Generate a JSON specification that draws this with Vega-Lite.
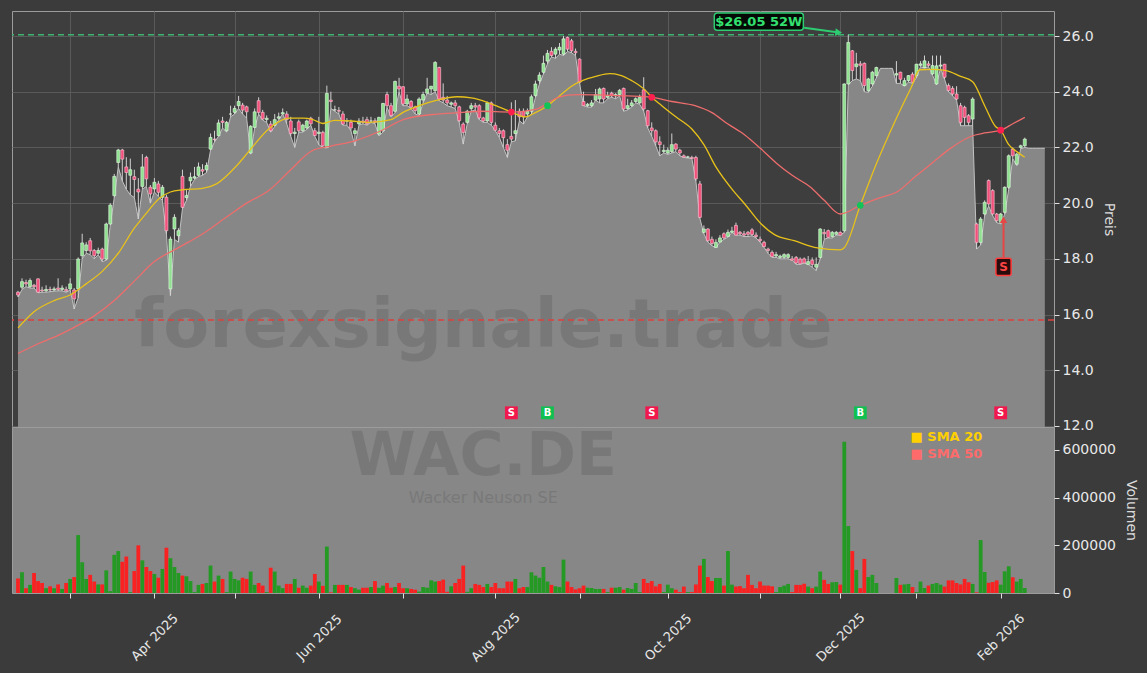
{
"$schema": "https://vega.github.io/schema/vega-lite/v6.json",
"background": "#3b3b3b",
"padding": {"left": 10, "top": 10, "right": 13, "bottom": 16},
"spacing": 0,
"bounds": "flush",
"config": {
  "font": "DejaVu Sans",
  "axis": {"labelColor": "#e8e8e8", "titleColor": "#dcdcdc", "labelFontSize": 14, "titleFontSize": 14, "titleFontWeight": "normal", "tickColor": "#e0e0e0", "domain": false, "gridColor": "#5a5a5a", "labelFont": "DejaVu Sans", "titleFont": "DejaVu Sans"}
},
"datasets": {
"one": [{}],
"ohlc": [
{"i":0,"o":16.8,"h":16.85,"l":16.63,"c":16.7,"v":61000},
{"i":1,"o":16.98,"h":17.3,"l":16.9,"c":17.18,"v":87000},
{"i":2,"o":17.15,"h":17.25,"l":17.0,"c":17.1,"v":20000},
{"i":3,"o":17.0,"h":17.3,"l":16.95,"c":17.22,"v":34000},
{"i":4,"o":17.05,"h":17.1,"l":16.95,"c":17.0,"v":84000},
{"i":5,"o":17.28,"h":17.3,"l":16.78,"c":16.8,"v":50000},
{"i":6,"o":16.88,"h":17.0,"l":16.8,"c":16.85,"v":42000},
{"i":7,"o":16.85,"h":17.05,"l":16.8,"c":16.9,"v":20000},
{"i":8,"o":16.9,"h":17.0,"l":16.82,"c":16.88,"v":28000},
{"i":9,"o":16.88,"h":17.0,"l":16.84,"c":16.92,"v":20000},
{"i":10,"o":16.95,"h":17.3,"l":16.85,"c":16.9,"v":36000},
{"i":11,"o":16.9,"h":17.05,"l":16.85,"c":16.95,"v":17000},
{"i":12,"o":16.9,"h":17.0,"l":16.8,"c":16.85,"v":42000},
{"i":13,"o":16.92,"h":17.3,"l":16.88,"c":17.1,"v":59000},
{"i":14,"o":16.88,"h":16.95,"l":16.2,"c":16.56,"v":67000},
{"i":15,"o":16.92,"h":18.05,"l":16.6,"c":17.99,"v":243000},
{"i":16,"o":18.11,"h":18.9,"l":18.0,"c":18.57,"v":129000},
{"i":17,"o":18.3,"h":18.6,"l":18.2,"c":18.5,"v":59000},
{"i":18,"o":18.65,"h":18.75,"l":18.15,"c":18.29,"v":76000},
{"i":19,"o":18.3,"h":18.35,"l":18.0,"c":18.11,"v":48000},
{"i":20,"o":18.2,"h":18.4,"l":18.15,"c":18.3,"v":36000},
{"i":21,"o":18.35,"h":18.4,"l":17.9,"c":17.99,"v":36000},
{"i":22,"o":17.99,"h":19.3,"l":17.95,"c":19.25,"v":95000},
{"i":23,"o":19.25,"h":20.0,"l":19.2,"c":19.93,"v":8000},
{"i":24,"o":20.27,"h":21.05,"l":20.2,"c":20.96,"v":160000},
{"i":25,"o":21.46,"h":21.95,"l":21.3,"c":21.91,"v":176000},
{"i":26,"o":21.91,"h":21.95,"l":20.8,"c":21.58,"v":131000},
{"i":27,"o":21.3,"h":21.65,"l":20.5,"c":21.1,"v":153000},
{"i":28,"o":21.0,"h":21.6,"l":20.3,"c":21.2,"v":4000},
{"i":29,"o":20.95,"h":21.2,"l":20.2,"c":20.85,"v":92000},
{"i":30,"o":20.5,"h":20.9,"l":19.43,"c":20.4,"v":200000},
{"i":31,"o":20.6,"h":21.76,"l":20.5,"c":21.3,"v":137000},
{"i":32,"o":21.64,"h":21.7,"l":20.6,"c":20.87,"v":109000},
{"i":33,"o":20.57,"h":20.65,"l":20.0,"c":20.33,"v":92000},
{"i":34,"o":20.51,"h":20.9,"l":20.4,"c":20.75,"v":80000},
{"i":35,"o":20.69,"h":20.8,"l":20.25,"c":20.39,"v":64000},
{"i":36,"o":20.21,"h":20.65,"l":20.1,"c":20.57,"v":101000},
{"i":37,"o":20.21,"h":20.3,"l":18.9,"c":19.01,"v":190000},
{"i":38,"o":16.92,"h":18.8,"l":16.68,"c":18.71,"v":146000},
{"i":39,"o":19.07,"h":19.6,"l":18.7,"c":19.49,"v":109000},
{"i":40,"o":18.83,"h":19.1,"l":18.6,"c":19.01,"v":84000},
{"i":41,"o":20.96,"h":21.2,"l":19.8,"c":19.85,"v":73000},
{"i":42,"o":20.2,"h":20.5,"l":20.1,"c":20.27,"v":70000},
{"i":43,"o":20.8,"h":21.1,"l":20.6,"c":20.93,"v":50000},
{"i":44,"o":20.9,"h":21.3,"l":20.85,"c":20.95,"v":4000},
{"i":45,"o":21.0,"h":21.46,"l":20.95,"c":21.3,"v":34000},
{"i":46,"o":21.2,"h":21.4,"l":21.0,"c":21.15,"v":38000},
{"i":47,"o":21.2,"h":21.46,"l":21.1,"c":21.35,"v":42000},
{"i":48,"o":21.94,"h":22.5,"l":21.9,"c":22.36,"v":115000},
{"i":49,"o":22.3,"h":22.6,"l":22.2,"c":22.28,"v":48000},
{"i":50,"o":22.42,"h":23.0,"l":22.4,"c":22.88,"v":73000},
{"i":51,"o":22.95,"h":23.1,"l":22.7,"c":22.9,"v":59000},
{"i":52,"o":22.6,"h":22.95,"l":22.55,"c":22.9,"v":4000},
{"i":53,"o":23.2,"h":23.5,"l":23.1,"c":23.2,"v":90000},
{"i":54,"o":23.26,"h":23.5,"l":23.2,"c":23.4,"v":59000},
{"i":55,"o":23.5,"h":23.85,"l":23.4,"c":23.65,"v":53000},
{"i":56,"o":23.52,"h":23.6,"l":23.2,"c":23.34,"v":64000},
{"i":57,"o":23.46,"h":23.5,"l":23.05,"c":23.28,"v":59000},
{"i":58,"o":21.8,"h":22.8,"l":21.76,"c":22.76,"v":90000},
{"i":59,"o":22.72,"h":23.4,"l":22.7,"c":23.28,"v":34000},
{"i":60,"o":23.68,"h":23.8,"l":23.2,"c":23.26,"v":42000},
{"i":61,"o":23.26,"h":23.35,"l":22.98,"c":23.02,"v":31000},
{"i":62,"o":23.0,"h":23.15,"l":22.9,"c":23.05,"v":4000},
{"i":63,"o":22.84,"h":22.95,"l":22.55,"c":22.6,"v":106000},
{"i":64,"o":22.8,"h":23.2,"l":22.75,"c":23.0,"v":90000},
{"i":65,"o":23.05,"h":23.25,"l":23.0,"c":23.1,"v":31000},
{"i":66,"o":23.2,"h":23.4,"l":23.2,"c":23.25,"v":20000},
{"i":67,"o":23.2,"h":23.3,"l":22.85,"c":23.0,"v":38000},
{"i":68,"o":22.95,"h":23.1,"l":22.4,"c":22.5,"v":38000},
{"i":69,"o":22.5,"h":22.7,"l":22.0,"c":22.55,"v":59000},
{"i":70,"o":22.92,"h":23.0,"l":22.55,"c":22.6,"v":22000},
{"i":71,"o":22.6,"h":22.85,"l":22.55,"c":22.8,"v":31000},
{"i":72,"o":22.7,"h":23.0,"l":22.65,"c":22.95,"v":22000},
{"i":73,"o":23.05,"h":23.1,"l":22.8,"c":22.85,"v":31000},
{"i":74,"o":22.6,"h":22.7,"l":22.4,"c":22.43,"v":80000},
{"i":75,"o":22.5,"h":23.1,"l":22.1,"c":22.55,"v":48000},
{"i":76,"o":22.54,"h":22.6,"l":22.0,"c":22.06,"v":30000},
{"i":77,"o":22.0,"h":24.22,"l":21.98,"c":23.94,"v":195000},
{"i":78,"o":23.7,"h":24.0,"l":23.4,"c":23.65,"v":3000},
{"i":79,"o":23.35,"h":23.5,"l":23.3,"c":23.35,"v":34000},
{"i":80,"o":23.33,"h":23.45,"l":23.2,"c":23.3,"v":34000},
{"i":81,"o":23.2,"h":23.3,"l":22.8,"c":22.84,"v":34000},
{"i":82,"o":22.95,"h":23.05,"l":22.8,"c":22.95,"v":34000},
{"i":83,"o":22.9,"h":23.0,"l":22.6,"c":22.7,"v":25000},
{"i":84,"o":22.5,"h":22.7,"l":22.06,"c":22.6,"v":20000},
{"i":85,"o":22.85,"h":23.05,"l":22.8,"c":22.95,"v":14000},
{"i":86,"o":22.95,"h":23.1,"l":22.85,"c":22.9,"v":22000},
{"i":87,"o":23.0,"h":23.1,"l":22.8,"c":22.85,"v":22000},
{"i":88,"o":22.95,"h":23.1,"l":22.9,"c":22.95,"v":25000},
{"i":89,"o":22.96,"h":23.05,"l":22.85,"c":22.9,"v":50000},
{"i":90,"o":22.48,"h":23.1,"l":22.42,"c":23.08,"v":22000},
{"i":91,"o":22.6,"h":23.6,"l":22.55,"c":23.58,"v":31000},
{"i":92,"o":23.9,"h":24.0,"l":23.44,"c":23.5,"v":42000},
{"i":93,"o":23.5,"h":23.6,"l":23.1,"c":23.15,"v":22000},
{"i":94,"o":23.3,"h":24.4,"l":23.25,"c":24.37,"v":25000},
{"i":95,"o":24.2,"h":24.5,"l":24.0,"c":24.1,"v":42000},
{"i":96,"o":24.18,"h":24.2,"l":23.5,"c":23.56,"v":20000},
{"i":97,"o":23.56,"h":23.9,"l":23.5,"c":23.74,"v":20000},
{"i":98,"o":23.65,"h":23.7,"l":23.4,"c":23.45,"v":17000},
{"i":99,"o":23.45,"h":23.5,"l":23.2,"c":23.32,"v":14000},
{"i":100,"o":23.2,"h":23.8,"l":23.15,"c":23.74,"v":6000},
{"i":101,"o":23.7,"h":24.0,"l":23.6,"c":23.9,"v":25000},
{"i":102,"o":23.95,"h":24.5,"l":23.95,"c":24.1,"v":22000},
{"i":103,"o":24.1,"h":24.2,"l":23.9,"c":24.2,"v":53000},
{"i":104,"o":24.04,"h":25.1,"l":24.0,"c":25.05,"v":48000},
{"i":105,"o":24.87,"h":24.9,"l":23.68,"c":23.74,"v":50000},
{"i":106,"o":23.8,"h":24.3,"l":23.6,"c":23.7,"v":56000},
{"i":107,"o":23.7,"h":23.85,"l":23.5,"c":23.6,"v":5000},
{"i":108,"o":23.55,"h":23.65,"l":23.45,"c":23.6,"v":28000},
{"i":109,"o":23.6,"h":23.7,"l":23.4,"c":23.5,"v":42000},
{"i":110,"o":23.46,"h":23.5,"l":22.9,"c":22.96,"v":59000},
{"i":111,"o":22.84,"h":22.9,"l":22.12,"c":22.54,"v":115000},
{"i":112,"o":22.9,"h":23.35,"l":22.85,"c":23.3,"v":5000},
{"i":113,"o":23.4,"h":23.6,"l":23.3,"c":23.5,"v":20000},
{"i":114,"o":23.5,"h":23.6,"l":23.35,"c":23.45,"v":38000},
{"i":115,"o":23.5,"h":23.55,"l":23.0,"c":23.06,"v":34000},
{"i":116,"o":23.06,"h":23.1,"l":22.9,"c":22.95,"v":25000},
{"i":117,"o":22.95,"h":23.65,"l":22.9,"c":23.6,"v":38000},
{"i":118,"o":23.6,"h":23.65,"l":22.8,"c":22.9,"v":25000},
{"i":119,"o":22.8,"h":22.9,"l":22.6,"c":22.62,"v":42000},
{"i":120,"o":22.6,"h":22.7,"l":22.36,"c":22.5,"v":20000},
{"i":121,"o":22.6,"h":22.65,"l":22.0,"c":22.35,"v":20000},
{"i":122,"o":22.1,"h":22.3,"l":21.64,"c":21.9,"v":48000},
{"i":123,"o":22.4,"h":23.62,"l":22.2,"c":22.3,"v":48000},
{"i":124,"o":22.5,"h":23.7,"l":22.24,"c":22.6,"v":59000},
{"i":125,"o":23.3,"h":23.4,"l":22.96,"c":23.1,"v":20000},
{"i":126,"o":23.3,"h":23.4,"l":22.84,"c":23.1,"v":25000},
{"i":127,"o":23.2,"h":23.4,"l":23.1,"c":23.3,"v":25000},
{"i":128,"o":23.3,"h":23.9,"l":23.2,"c":23.82,"v":87000},
{"i":129,"o":23.86,"h":24.4,"l":23.8,"c":24.28,"v":73000},
{"i":130,"o":24.4,"h":24.7,"l":24.28,"c":24.6,"v":64000},
{"i":131,"o":24.7,"h":25.3,"l":24.64,"c":25.02,"v":109000},
{"i":132,"o":25.1,"h":25.5,"l":25.0,"c":25.38,"v":48000},
{"i":133,"o":25.45,"h":25.6,"l":25.25,"c":25.3,"v":34000},
{"i":134,"o":25.35,"h":25.6,"l":25.2,"c":25.53,"v":28000},
{"i":135,"o":25.5,"h":25.75,"l":25.35,"c":25.6,"v":25000},
{"i":136,"o":25.35,"h":26.0,"l":25.3,"c":25.9,"v":140000},
{"i":137,"o":25.95,"h":25.98,"l":25.45,"c":25.53,"v":48000},
{"i":138,"o":25.83,"h":25.9,"l":25.4,"c":25.47,"v":25000},
{"i":139,"o":25.45,"h":25.55,"l":25.3,"c":25.4,"v":15000},
{"i":140,"o":25.17,"h":25.2,"l":24.3,"c":24.34,"v":20000},
{"i":141,"o":23.65,"h":24.0,"l":23.5,"c":23.5,"v":31000},
{"i":142,"o":23.5,"h":23.6,"l":23.45,"c":23.55,"v":22000},
{"i":143,"o":23.5,"h":23.7,"l":23.45,"c":23.6,"v":21000},
{"i":144,"o":23.7,"h":24.1,"l":23.7,"c":23.9,"v":17000},
{"i":145,"o":23.74,"h":24.15,"l":23.6,"c":24.1,"v":17000},
{"i":146,"o":24.12,"h":24.15,"l":23.6,"c":23.74,"v":17000},
{"i":147,"o":23.8,"h":24.0,"l":23.75,"c":23.85,"v":4000},
{"i":148,"o":23.95,"h":24.0,"l":23.8,"c":23.85,"v":22000},
{"i":149,"o":23.85,"h":23.95,"l":23.75,"c":23.9,"v":22000},
{"i":150,"o":23.9,"h":24.1,"l":23.85,"c":24.05,"v":25000},
{"i":151,"o":24.12,"h":24.15,"l":23.3,"c":23.38,"v":14000},
{"i":152,"o":23.4,"h":23.75,"l":23.35,"c":23.5,"v":21000},
{"i":153,"o":23.5,"h":23.7,"l":23.45,"c":23.6,"v":17000},
{"i":154,"o":23.65,"h":23.8,"l":23.6,"c":23.75,"v":42000},
{"i":155,"o":23.6,"h":23.9,"l":23.55,"c":23.8,"v":4000},
{"i":156,"o":24.07,"h":24.52,"l":23.3,"c":23.38,"v":59000},
{"i":157,"o":23.32,"h":23.35,"l":22.7,"c":22.78,"v":42000},
{"i":158,"o":22.7,"h":22.9,"l":22.4,"c":22.6,"v":50000},
{"i":159,"o":22.6,"h":22.65,"l":22.06,"c":22.2,"v":28000},
{"i":160,"o":22.2,"h":22.4,"l":21.7,"c":22.1,"v":38000},
{"i":161,"o":21.85,"h":22.1,"l":21.8,"c":21.9,"v":4000},
{"i":162,"o":21.8,"h":22.0,"l":21.75,"c":21.9,"v":35000},
{"i":163,"o":21.85,"h":22.5,"l":21.8,"c":22.1,"v":20000},
{"i":164,"o":22.12,"h":22.15,"l":21.85,"c":21.94,"v":14000},
{"i":165,"o":21.9,"h":21.95,"l":21.7,"c":21.8,"v":4000},
{"i":166,"o":21.7,"h":21.75,"l":21.64,"c":21.65,"v":27000},
{"i":167,"o":21.65,"h":21.7,"l":21.62,"c":21.66,"v":4000},
{"i":168,"o":21.64,"h":21.7,"l":21.6,"c":21.6,"v":4000},
{"i":169,"o":21.64,"h":21.7,"l":20.8,"c":20.87,"v":36000},
{"i":170,"o":20.69,"h":20.8,"l":19.45,"c":19.49,"v":115000},
{"i":171,"o":18.95,"h":19.2,"l":18.9,"c":19.07,"v":143000},
{"i":172,"o":19.07,"h":19.1,"l":18.6,"c":18.65,"v":67000},
{"i":173,"o":18.7,"h":18.8,"l":18.47,"c":18.55,"v":50000},
{"i":174,"o":18.41,"h":18.7,"l":18.4,"c":18.59,"v":63000},
{"i":175,"o":18.6,"h":18.85,"l":18.6,"c":18.75,"v":63000},
{"i":176,"o":18.9,"h":18.95,"l":18.7,"c":18.75,"v":31000},
{"i":177,"o":18.8,"h":19.05,"l":18.78,"c":18.95,"v":176000},
{"i":178,"o":18.95,"h":19.15,"l":18.95,"c":19.0,"v":35000},
{"i":179,"o":19.2,"h":19.3,"l":18.85,"c":18.85,"v":27000},
{"i":180,"o":18.95,"h":19.0,"l":18.85,"c":18.9,"v":29000},
{"i":181,"o":18.9,"h":19.0,"l":18.8,"c":18.85,"v":20000},
{"i":182,"o":18.95,"h":19.0,"l":18.8,"c":18.88,"v":76000},
{"i":183,"o":19.04,"h":19.1,"l":18.83,"c":18.87,"v":34000},
{"i":184,"o":18.85,"h":18.95,"l":18.75,"c":18.8,"v":20000},
{"i":185,"o":18.7,"h":18.8,"l":18.6,"c":18.65,"v":48000},
{"i":186,"o":18.59,"h":18.65,"l":18.41,"c":18.44,"v":31000},
{"i":187,"o":18.35,"h":18.4,"l":18.2,"c":18.3,"v":31000},
{"i":188,"o":18.23,"h":18.3,"l":18.05,"c":18.08,"v":28000},
{"i":189,"o":18.1,"h":18.25,"l":18.05,"c":18.15,"v":4000},
{"i":190,"o":18.05,"h":18.15,"l":18.0,"c":18.1,"v":25000},
{"i":191,"o":18.05,"h":18.2,"l":18.0,"c":18.15,"v":31000},
{"i":192,"o":18.05,"h":18.2,"l":18.0,"c":18.15,"v":38000},
{"i":193,"o":18.0,"h":18.1,"l":17.95,"c":17.95,"v":4000},
{"i":194,"o":18.05,"h":18.1,"l":17.8,"c":17.85,"v":34000},
{"i":195,"o":17.99,"h":18.05,"l":17.8,"c":17.82,"v":34000},
{"i":196,"o":18.0,"h":18.05,"l":17.85,"c":17.85,"v":39000},
{"i":197,"o":17.8,"h":18.1,"l":17.8,"c":17.9,"v":27000},
{"i":198,"o":17.95,"h":18.05,"l":17.7,"c":17.8,"v":20000},
{"i":199,"o":17.7,"h":18.05,"l":17.58,"c":17.8,"v":27000},
{"i":200,"o":18.05,"h":19.1,"l":18.0,"c":19.07,"v":90000},
{"i":201,"o":18.95,"h":19.07,"l":18.7,"c":18.9,"v":55000},
{"i":202,"o":19.01,"h":19.05,"l":18.75,"c":18.77,"v":38000},
{"i":203,"o":18.8,"h":19.0,"l":18.75,"c":18.95,"v":45000},
{"i":204,"o":18.88,"h":19.0,"l":18.85,"c":18.95,"v":46000},
{"i":205,"o":18.95,"h":18.98,"l":18.85,"c":18.85,"v":35000},
{"i":206,"o":19.01,"h":24.3,"l":18.95,"c":24.28,"v":635000},
{"i":207,"o":24.28,"h":26.05,"l":24.25,"c":25.77,"v":281000},
{"i":208,"o":25.47,"h":25.5,"l":24.4,"c":24.76,"v":176000},
{"i":209,"o":24.9,"h":25.4,"l":24.46,"c":25.0,"v":97000},
{"i":210,"o":25.0,"h":25.1,"l":24.4,"c":24.95,"v":20000},
{"i":211,"o":25.02,"h":25.05,"l":24.0,"c":24.22,"v":143000},
{"i":212,"o":24.04,"h":24.5,"l":23.98,"c":24.46,"v":67000},
{"i":213,"o":24.28,"h":24.75,"l":24.2,"c":24.7,"v":76000},
{"i":214,"o":24.58,"h":24.9,"l":24.5,"c":24.87,"v":42000},
{"i":215,"l":24.84},
{"i":216,"l":24.84},
{"i":217,"l":24.84},
{"i":218,"l":24.84},
{"i":219,"o":24.6,"h":25.1,"l":24.3,"c":24.65,"v":63000},
{"i":220,"o":24.7,"h":24.72,"l":24.3,"c":24.45,"v":34000},
{"i":221,"o":24.22,"h":24.5,"l":24.2,"c":24.4,"v":36000},
{"i":222,"o":24.4,"h":24.6,"l":24.35,"c":24.58,"v":38000},
{"i":223,"o":24.63,"h":24.7,"l":24.3,"c":24.34,"v":25000},
{"i":224,"o":24.58,"h":25.0,"l":24.5,"c":24.99,"v":4000},
{"i":225,"o":24.95,"h":25.1,"l":24.9,"c":25.0,"v":48000},
{"i":226,"o":24.87,"h":25.3,"l":24.85,"c":25.11,"v":21000},
{"i":227,"o":25.0,"h":25.1,"l":24.9,"c":24.95,"v":31000},
{"i":228,"o":24.64,"h":25.3,"l":24.6,"c":24.94,"v":38000},
{"i":229,"o":24.28,"h":25.3,"l":24.25,"c":24.93,"v":42000},
{"i":230,"o":24.92,"h":25.3,"l":24.85,"c":24.96,"v":35000},
{"i":231,"o":24.99,"h":25.0,"l":24.45,"c":24.52,"v":27000},
{"i":232,"o":24.22,"h":24.3,"l":24.0,"c":24.04,"v":53000},
{"i":233,"o":24.12,"h":24.2,"l":23.85,"c":23.92,"v":53000},
{"i":234,"o":23.92,"h":24.2,"l":23.7,"c":23.74,"v":42000},
{"i":235,"o":23.5,"h":23.6,"l":22.78,"c":22.9,"v":36000},
{"i":236,"o":23.44,"h":23.5,"l":22.78,"c":23.08,"v":59000},
{"i":237,"o":23.14,"h":23.2,"l":22.78,"c":22.9,"v":45000},
{"i":238,"o":23.02,"h":23.8,"l":22.78,"c":23.74,"v":38000},
{"i":239,"o":19.25,"h":19.3,"l":18.35,"c":18.59,"v":3000},
{"i":240,"o":18.59,"h":19.5,"l":18.5,"c":19.43,"v":222000},
{"i":241,"o":19.61,"h":20.1,"l":19.55,"c":20.03,"v":88000},
{"i":242,"o":20.81,"h":20.85,"l":19.9,"c":19.97,"v":43000},
{"i":243,"o":20.45,"h":20.5,"l":19.55,"c":19.61,"v":46000},
{"i":244,"o":19.61,"h":19.65,"l":19.3,"c":19.37,"v":53000},
{"i":245,"o":19.31,"h":19.65,"l":19.25,"c":19.61,"v":35000},
{"i":246,"o":19.67,"h":20.6,"l":19.6,"c":20.57,"v":91000},
{"i":247,"o":20.57,"h":21.75,"l":20.5,"c":21.7,"v":112000},
{"i":248,"o":21.94,"h":22.0,"l":21.6,"c":21.7,"v":66000},
{"i":249,"o":21.4,"h":21.8,"l":21.35,"c":21.76,"v":48000},
{"i":250,"o":22.0,"h":22.1,"l":21.95,"c":22.06,"v":59000},
{"i":251,"o":22.06,"h":22.35,"l":22.0,"c":22.3,"v":21000},
{"i":252,"l":21.97},
{"i":253,"l":21.97},
{"i":254,"l":21.97},
{"i":255,"l":21.97},
{"i":256,"l":21.97}
],
"sma": [
{"i":0,"k":"SMA 20","p":15.52},{"i":4,"k":"SMA 20","p":16.1},{"i":9,"k":"SMA 20","p":16.5},{"i":13,"k":"SMA 20","p":16.7},{"i":17,"k":"SMA 20","p":17.1},{"i":21,"k":"SMA 20","p":17.55},{"i":25,"k":"SMA 20","p":18.2},{"i":29,"k":"SMA 20","p":19.1},{"i":31.5,"k":"SMA 20","p":19.55},{"i":35.5,"k":"SMA 20","p":20.2},{"i":38,"k":"SMA 20","p":20.4},{"i":41,"k":"SMA 20","p":20.48},{"i":46,"k":"SMA 20","p":20.53},{"i":49.5,"k":"SMA 20","p":20.69},{"i":54.5,"k":"SMA 20","p":21.34},{"i":57.5,"k":"SMA 20","p":21.85},{"i":62.5,"k":"SMA 20","p":22.66},{"i":67.5,"k":"SMA 20","p":23.05},{"i":71,"k":"SMA 20","p":23.05},{"i":73.5,"k":"SMA 20","p":23.0},{"i":76,"k":"SMA 20","p":22.86},{"i":79,"k":"SMA 20","p":22.97},{"i":83,"k":"SMA 20","p":22.95},{"i":87.5,"k":"SMA 20","p":22.9},{"i":93,"k":"SMA 20","p":23.0},{"i":96,"k":"SMA 20","p":23.26},{"i":100,"k":"SMA 20","p":23.5},{"i":104.5,"k":"SMA 20","p":23.7},{"i":109.5,"k":"SMA 20","p":23.82},{"i":113,"k":"SMA 20","p":23.78},{"i":117,"k":"SMA 20","p":23.62},{"i":120,"k":"SMA 20","p":23.45},{"i":123,"k":"SMA 20","p":23.27},{"i":126.5,"k":"SMA 20","p":23.1},{"i":129,"k":"SMA 20","p":23.25},{"i":132,"k":"SMA 20","p":23.5},{"i":135,"k":"SMA 20","p":23.85},{"i":138,"k":"SMA 20","p":24.2},{"i":141,"k":"SMA 20","p":24.42},{"i":144,"k":"SMA 20","p":24.55},{"i":147.5,"k":"SMA 20","p":24.65},{"i":150,"k":"SMA 20","p":24.6},{"i":153,"k":"SMA 20","p":24.4},{"i":156.5,"k":"SMA 20","p":24.04},{"i":158,"k":"SMA 20","p":23.8},{"i":160.5,"k":"SMA 20","p":23.5},{"i":164,"k":"SMA 20","p":23.1},{"i":168,"k":"SMA 20","p":22.66},{"i":171,"k":"SMA 20","p":22.1},{"i":174,"k":"SMA 20","p":21.3},{"i":178.3,"k":"SMA 20","p":20.45},{"i":181.2,"k":"SMA 20","p":19.97},{"i":185.3,"k":"SMA 20","p":19.25},{"i":188.6,"k":"SMA 20","p":18.87},{"i":193.5,"k":"SMA 20","p":18.65},{"i":199.3,"k":"SMA 20","p":18.39},{"i":205,"k":"SMA 20","p":18.32},{"i":206,"k":"SMA 20","p":18.4},{"i":210,"k":"SMA 20","p":19.92},{"i":214,"k":"SMA 20","p":21.41},{"i":219,"k":"SMA 20","p":23.05},{"i":222.7,"k":"SMA 20","p":24.16},{"i":224.8,"k":"SMA 20","p":24.79},{"i":228,"k":"SMA 20","p":24.8},{"i":231.4,"k":"SMA 20","p":24.76},{"i":235,"k":"SMA 20","p":24.55},{"i":238,"k":"SMA 20","p":24.36},{"i":241,"k":"SMA 20","p":23.5},{"i":243.7,"k":"SMA 20","p":22.75},{"i":245,"k":"SMA 20","p":22.62},{"i":247,"k":"SMA 20","p":22.1},{"i":249,"k":"SMA 20","p":21.85},{"i":251,"k":"SMA 20","p":21.65},
{"i":0,"k":"SMA 50","p":14.6},{"i":5,"k":"SMA 50","p":14.95},{"i":10,"k":"SMA 50","p":15.25},{"i":14,"k":"SMA 50","p":15.54},{"i":19,"k":"SMA 50","p":15.95},{"i":24,"k":"SMA 50","p":16.5},{"i":29,"k":"SMA 50","p":17.2},{"i":34,"k":"SMA 50","p":17.9},{"i":40,"k":"SMA 50","p":18.4},{"i":46,"k":"SMA 50","p":18.89},{"i":52,"k":"SMA 50","p":19.5},{"i":57,"k":"SMA 50","p":20.0},{"i":62.5,"k":"SMA 50","p":20.45},{"i":68,"k":"SMA 50","p":21.2},{"i":73.3,"k":"SMA 50","p":21.88},{"i":78,"k":"SMA 50","p":22.05},{"i":84,"k":"SMA 50","p":22.24},{"i":90.5,"k":"SMA 50","p":22.6},{"i":96.4,"k":"SMA 50","p":23.02},{"i":104.6,"k":"SMA 50","p":23.2},{"i":110,"k":"SMA 50","p":23.25},{"i":115.3,"k":"SMA 50","p":23.3},{"i":123,"k":"SMA 50","p":23.27},{"i":129.3,"k":"SMA 50","p":23.38},{"i":133.8,"k":"SMA 50","p":23.74},{"i":137,"k":"SMA 50","p":23.88},{"i":140,"k":"SMA 50","p":23.9},{"i":146,"k":"SMA 50","p":23.88},{"i":152,"k":"SMA 50","p":23.85},{"i":158,"k":"SMA 50","p":23.8},{"i":163,"k":"SMA 50","p":23.65},{"i":168.8,"k":"SMA 50","p":23.5},{"i":173,"k":"SMA 50","p":23.25},{"i":177,"k":"SMA 50","p":22.84},{"i":181.2,"k":"SMA 50","p":22.45},{"i":185.3,"k":"SMA 50","p":21.94},{"i":189.4,"k":"SMA 50","p":21.4},{"i":193,"k":"SMA 50","p":21.0},{"i":197.6,"k":"SMA 50","p":20.57},{"i":201,"k":"SMA 50","p":20.1},{"i":205,"k":"SMA 50","p":19.61},{"i":210,"k":"SMA 50","p":19.92},{"i":215,"k":"SMA 50","p":20.2},{"i":219,"k":"SMA 50","p":20.39},{"i":224,"k":"SMA 50","p":20.99},{"i":228,"k":"SMA 50","p":21.45},{"i":232.2,"k":"SMA 50","p":21.94},{"i":238,"k":"SMA 50","p":22.42},{"i":241,"k":"SMA 50","p":22.52},{"i":245,"k":"SMA 50","p":22.62},{"i":248,"k":"SMA 50","p":22.85},{"i":251,"k":"SMA 50","p":23.08}
],
"sig": [
{"i":123,"p":23.27,"t":"S"},
{"i":132,"p":23.5,"t":"B"},
{"i":158,"p":23.8,"t":"S"},
{"i":210,"p":19.92,"t":"B"},
{"i":245,"p":22.62,"t":"S"}
]
},
"vconcat": [
{
  "width": 1042, "height": 416,
  "view": {"fill": "#3e3e3e", "stroke": "#9c9c9c"},
  "layer": [
    {"data": {"name": "ohlc"},
     "mark": {"type": "area", "color": "#878787", "opacity": 1, "clip": true, "line": {"color": "#c2c2c2", "strokeWidth": 1}},
     "encoding": {
       "x": {"field": "i", "type": "quantitative", "scale": {"domain": [-0.25, 257.04], "nice": false, "zero": false},
             "axis": {"values": [13,34,54,75,96,119,140,162,185,205,224,245], "labels": false, "ticks": false, "grid": true, "title": null, "domain": false, "minExtent": 0, "maxExtent": 0, "offset": 0}},
       "y": {"field": "l", "type": "quantitative", "scale": {"domain": [11.96, 26.9], "nice": false, "zero": false},
             "axis": {"orient": "right", "values": [12,14,16,18,20,22,24,26], "format": ".1f", "title": "Preis", "grid": true, "tickSize": 5, "labelPadding": 3, "titlePadding": 8}}
     }},
    {"data": {"name": "one"},
     "mark": {"type": "text", "text": "forexsignale.trade", "fontSize": 67, "fontWeight": "bold", "color": "#555555", "opacity": 0.28, "align": "center", "baseline": "middle"},
     "encoding": {"x": {"datum": 116, "type": "quantitative"}, "y": {"datum": 15.55, "type": "quantitative"}}},
    {"data": {"name": "one"},
     "mark": {"type": "rule", "color": "#dd4040", "strokeWidth": 1.5, "strokeDash": [6, 4]},
     "encoding": {"y": {"datum": 15.8, "type": "quantitative"}}},
    {"data": {"name": "one"},
     "mark": {"type": "rule", "color": "#3cb371", "strokeWidth": 1.5, "strokeDash": [6, 4]},
     "encoding": {"y": {"datum": 26.05, "type": "quantitative"}}},
    {"data": {"name": "ohlc"},
     "transform": [{"filter": "isValid(datum.o)"}],
     "mark": {"type": "rule", "color": "#d2d2d2", "strokeWidth": 1},
     "encoding": {"x": {"field": "i", "type": "quantitative"}, "y": {"field": "l", "type": "quantitative"}, "y2": {"field": "h"}}},
    {"data": {"name": "ohlc"},
     "transform": [{"filter": "isValid(datum.o)"}],
     "mark": {"type": "bar", "width": 3, "strokeWidth": 0.6},
     "encoding": {"x": {"field": "i", "type": "quantitative"}, "y": {"field": "o", "type": "quantitative"}, "y2": {"field": "c"},
       "fill": {"condition": {"test": "datum.c >= datum.o", "value": "#8fe08f"}, "value": "#f0507a"},
       "stroke": {"condition": {"test": "datum.c >= datum.o", "value": "#e4fbe4"}, "value": "#ffc8d6"}}},
    {"data": {"name": "sma"},
     "mark": {"type": "line", "strokeWidth": 1.3, "interpolate": "monotone", "clip": true},
     "encoding": {"x": {"field": "i", "type": "quantitative"}, "y": {"field": "p", "type": "quantitative"},
       "color": {"field": "k", "type": "nominal", "scale": {"domain": ["SMA 20", "SMA 50"], "range": ["#e8c21a", "#ee6d6d"]}, "legend": null}}},
    {"data": {"name": "sig"},
     "mark": {"type": "point", "filled": true, "size": 45, "opacity": 1},
     "encoding": {"x": {"field": "i", "type": "quantitative"}, "y": {"field": "p", "type": "quantitative"},
       "color": {"condition": {"test": "datum.t == 'B'", "value": "#12c457"}, "value": "#ff1f4f"}}},
    {"data": {"name": "sig"},
     "mark": {"type": "point", "shape": "square", "filled": true, "size": 165, "opacity": 1},
     "encoding": {"x": {"field": "i", "type": "quantitative"}, "y": {"datum": 12.47, "type": "quantitative"},
       "color": {"condition": {"test": "datum.t == 'B'", "value": "#10c050"}, "value": "#f0184c"}}},
    {"data": {"name": "sig"},
     "mark": {"type": "text", "color": "white", "fontWeight": "bold", "fontSize": 10, "align": "center", "baseline": "middle"},
     "encoding": {"x": {"field": "i", "type": "quantitative"}, "y": {"datum": 12.47, "type": "quantitative"}, "text": {"field": "t"}}},
    {"data": {"name": "one"},
     "mark": {"type": "rect", "fill": "#050a06", "stroke": "#2ecc71", "strokeWidth": 1.5, "cornerRadius": 3},
     "encoding": {"x": {"datum": 173.6, "type": "quantitative"}, "x2": {"datum": 195.8}, "y": {"datum": 26.83, "type": "quantitative"}, "y2": {"datum": 26.21}}},
    {"data": {"name": "one"},
     "mark": {"type": "text", "text": "$26.05 52W", "color": "#33e070", "fontWeight": "bold", "fontSize": 13, "align": "center", "baseline": "middle"},
     "encoding": {"x": {"datum": 184.7, "type": "quantitative"}, "y": {"datum": 26.52, "type": "quantitative"}}},
    {"data": {"name": "one"},
     "mark": {"type": "rule", "color": "#2ecc71", "strokeWidth": 2},
     "encoding": {"x": {"datum": 196.0, "type": "quantitative"}, "x2": {"datum": 204.2}, "y": {"datum": 26.3, "type": "quantitative"}, "y2": {"datum": 26.14}}},
    {"data": {"name": "one"},
     "mark": {"type": "point", "shape": "triangle-right", "filled": true, "size": 60, "color": "#2ecc71", "opacity": 1, "angle": 6},
     "encoding": {"x": {"datum": 204.6, "type": "quantitative"}, "y": {"datum": 26.13, "type": "quantitative"}}},
    {"data": {"name": "one"},
     "mark": {"type": "rule", "color": "#e84545", "strokeWidth": 2},
     "encoding": {"x": {"datum": 245.7, "type": "quantitative"}, "y": {"datum": 18.05, "type": "quantitative"}, "y2": {"datum": 19.3}}},
    {"data": {"name": "one"},
     "mark": {"type": "point", "shape": "triangle-up", "filled": true, "size": 55, "color": "#e84545", "opacity": 1},
     "encoding": {"x": {"datum": 245.7, "type": "quantitative"}, "y": {"datum": 19.4, "type": "quantitative"}}},
    {"data": {"name": "one"},
     "mark": {"type": "rect", "fill": "#2a0c0c", "stroke": "#ff3b3b", "strokeWidth": 1.5, "cornerRadius": 2},
     "encoding": {"x": {"datum": 243.8, "type": "quantitative"}, "x2": {"datum": 247.6}, "y": {"datum": 18.02, "type": "quantitative"}, "y2": {"datum": 17.4}}},
    {"data": {"name": "one"},
     "mark": {"type": "text", "text": "S", "color": "#ff4545", "fontWeight": "bold", "fontSize": 12, "align": "center", "baseline": "middle"},
     "encoding": {"x": {"datum": 245.7, "type": "quantitative"}, "y": {"datum": 17.71, "type": "quantitative"}}}
  ]
},
{
  "width": 1042, "height": 166,
  "view": {"fill": "#878787", "stroke": "#9c9c9c"},
  "layer": [
    {"data": {"name": "ohlc"},
     "transform": [{"filter": "isValid(datum.v)"}],
     "mark": {"type": "bar", "width": 3.8, "opacity": 0.95},
     "encoding": {
       "x": {"field": "i", "type": "quantitative", "scale": {"domain": [-0.25, 257.04], "nice": false, "zero": false},
             "axis": {"values": [13,34,54,75,96,119,140,162,185,205,224,245], "title": null, "grid": false, "tickSize": 5,
                      "labelExpr": "datum.value==34?'Apr 2025':datum.value==75?'Jun 2025':datum.value==119?'Aug 2025':datum.value==162?'Oct 2025':datum.value==205?'Dec 2025':datum.value==245?'Feb 2026':''",
                      "labelAngle": -45, "labelAlign": "center", "labelBaseline": "middle", "labelPadding": 39, "labelFontSize": 13, "labelOverlap": false, "labelBound": false, "labelFlush": false}},
       "y": {"field": "v", "type": "quantitative", "scale": {"domain": [0, 696500], "nice": false},
             "axis": {"orient": "right", "values": [0, 200000, 400000, 600000], "format": "d", "title": "Volumen", "grid": false, "tickSize": 5, "labelPadding": 3, "titlePadding": 8}},
       "fill": {"condition": {"test": "datum.c >= datum.o", "value": "#1f9a1f"}, "value": "#ff1c1c"}
     }},
    {"data": {"name": "one"},
     "mark": {"type": "text", "text": "WAC.DE", "fontSize": 60, "fontWeight": "bold", "color": "#555555", "opacity": 0.28, "align": "center", "baseline": "middle"},
     "encoding": {"x": {"datum": 116, "type": "quantitative"}, "y": {"datum": 570600, "type": "quantitative"}}},
    {"data": {"name": "one"},
     "mark": {"type": "text", "text": "Wacker Neuson SE", "fontSize": 16, "color": "#555555", "opacity": 0.28, "align": "center", "baseline": "middle"},
     "encoding": {"x": {"datum": 116, "type": "quantitative"}, "y": {"datum": 398600, "type": "quantitative"}}},
    {"data": {"name": "one"},
     "mark": {"type": "text", "text": "■ SMA 20", "fontSize": 13, "fontWeight": "bold", "color": "#ffd000", "align": "left", "baseline": "middle"},
     "encoding": {"x": {"datum": 222.5, "type": "quantitative"}, "y": {"datum": 654700, "type": "quantitative"}}},
    {"data": {"name": "one"},
     "mark": {"type": "text", "text": "■ SMA 50", "fontSize": 13, "fontWeight": "bold", "color": "#ff6b6b", "align": "left", "baseline": "middle"},
     "encoding": {"x": {"datum": 222.5, "type": "quantitative"}, "y": {"datum": 583300, "type": "quantitative"}}}
  ]
}
]
}
